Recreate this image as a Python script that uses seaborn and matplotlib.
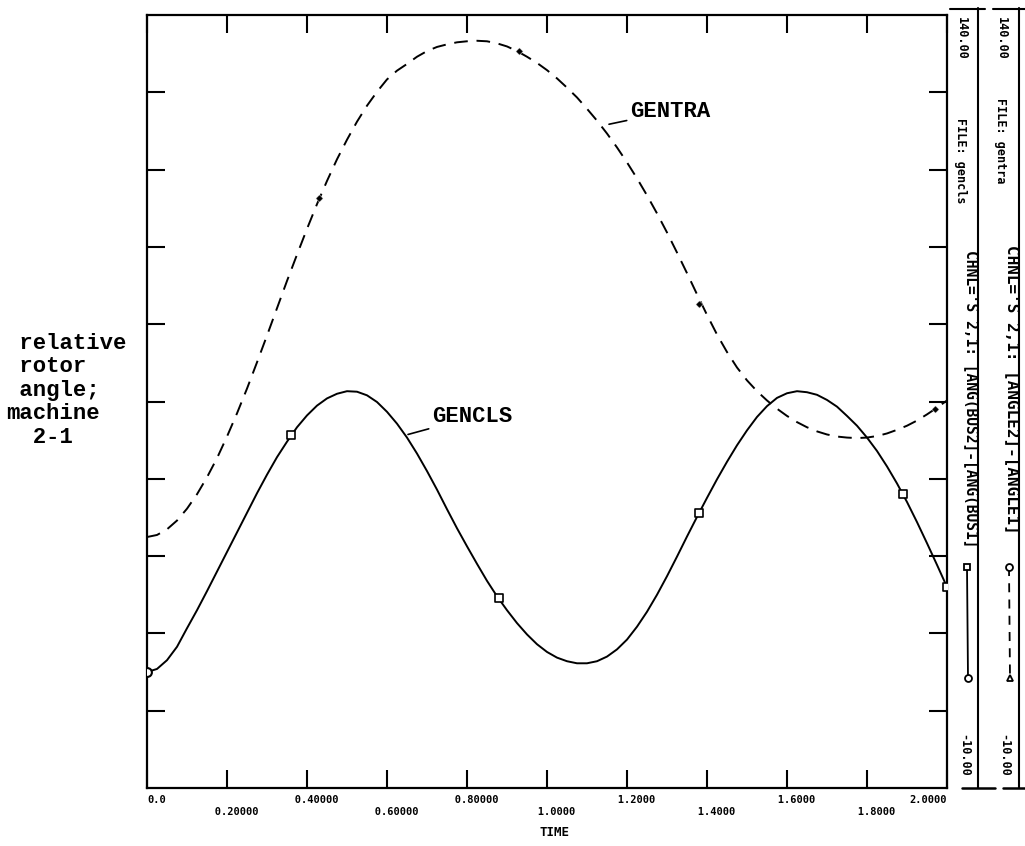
import matplotlib
matplotlib.use("Agg")
import matplotlib.pyplot as plt
import seaborn as sns
import pandas as pd

# values (time step 0.025)
time = [0.000, 0.025, 0.050, 0.075, 0.100, 0.125, 0.150, 0.175, 0.200, 0.225,
        0.250, 0.275, 0.300, 0.325, 0.350, 0.375, 0.400, 0.425, 0.450, 0.475,
        0.500, 0.525, 0.550, 0.575, 0.600, 0.625, 0.650, 0.675, 0.700, 0.725,
        0.750, 0.775, 0.800, 0.825, 0.850, 0.875, 0.900, 0.925, 0.950, 0.975,
        1.000, 1.025, 1.050, 1.075, 1.100, 1.125, 1.150, 1.175, 1.200, 1.225,
        1.250, 1.275, 1.300, 1.325, 1.350, 1.375, 1.400, 1.425, 1.450, 1.475,
        1.500, 1.525, 1.550, 1.575, 1.600, 1.625, 1.650, 1.675, 1.700, 1.725,
        1.750, 1.775, 1.800, 1.825, 1.850, 1.875, 1.900, 1.925, 1.950, 1.975,
        2.000]
gencls = [12.5, 13.1, 14.8, 17.4, 21.0, 24.5, 28.2, 32.0, 35.8, 39.6,
          43.4, 47.2, 50.8, 54.2, 57.2, 60.0, 62.3, 64.2, 65.6, 66.5,
          67.0, 66.9, 66.2, 64.9, 63.0, 60.7, 58.0, 54.9, 51.5, 47.9,
          44.1, 40.4, 36.9, 33.5, 30.2, 27.2, 24.5, 22.0, 19.8, 17.9,
          16.4, 15.3, 14.6, 14.2, 14.2, 14.6, 15.5, 16.9, 18.8, 21.3,
          24.2, 27.5, 31.1, 34.9, 38.8, 42.6, 46.3, 49.9, 53.3, 56.5,
          59.4, 62.0, 64.1, 65.7, 66.6, 67.0, 66.8, 66.3, 65.3, 64.0,
          62.2, 60.3, 58.0, 55.4, 52.4, 49.1, 45.5, 41.6, 37.5, 33.3,
          29.0]
gentra = [38.7, 39.1, 40.2, 41.9, 44.2, 47.0, 50.3, 54.0, 58.2, 62.7,
          67.5, 72.6, 77.8, 83.1, 88.4, 93.5, 98.5, 103.3, 107.8, 112.0,
          115.8, 119.3, 122.4, 125.1, 127.5, 129.2, 130.5, 131.9, 133.0, 133.8,
          134.3, 134.7, 134.9, 135.0, 134.9, 134.5, 133.9, 133.0, 131.9, 130.7,
          129.3, 127.7, 125.9, 124.0, 121.8, 119.5, 117.0, 114.3, 111.4, 108.3,
          105.0, 101.5, 97.8, 93.9, 89.9, 85.8, 81.8, 78.0, 74.6, 71.6,
          69.1, 67.0, 65.2, 63.6, 62.2, 61.0, 60.0, 59.2, 58.6, 58.2,
          58.0, 57.9, 58.0, 58.3, 58.8, 59.5, 60.3, 61.3, 62.5, 63.8,
          65.2]

gencls_mark_t = [0.36, 0.88, 1.38, 1.89, 2.00]
gencls_mark_v = [58.5, 26.8, 43.3, 47.0, 29.0]
gentra_mark_t = [0.43, 0.93, 1.38, 1.97]
gentra_mark_v = [104.5, 133.0, 84.0, 63.5]

x_ticks = [0.0, 0.2, 0.4, 0.6, 0.8, 1.0, 1.2, 1.4, 1.6, 1.8, 2.0]
x_labels = ["0.0", "0.20000", "0.40000", "0.60000", "0.80000", "1.0000",
            "1.2000", "1.4000", "1.6000", "1.8000", "2.0000"]
y_ticks = [5, 20, 35, 50, 65, 80, 95, 110, 125]
y_min, y_max = -10.0, 140.0

df = pd.DataFrame({"time": time, "gencls": gencls, "gentra": gentra})

sns.set_style("white")
plt.rcParams['font.family'] = ['DejaVu Sans Mono', 'DejaVu Sans']
plt.rcParams['text.color'] = 'black'
plt.rcParams['xtick.color'] = 'black'
plt.rcParams['ytick.color'] = 'black'

fig = plt.figure(figsize=(10.25, 8.46), dpi=100)
ax = fig.add_axes([147 / 1025, 1 - 788 / 846, 800 / 1025, 773 / 846])

sns.lineplot(data=df, x="time", y="gencls", ax=ax, color="black", lw=1.4)
sns.lineplot(data=df, x="time", y="gentra", ax=ax, color="black", lw=1.4)
ax.lines[-1].set_dashes([7, 4.5])

sns.scatterplot(x=gencls_mark_t, y=gencls_mark_v, ax=ax, marker="s", s=28,
                facecolor="white", edgecolor="black", linewidth=1.2, zorder=5)
sns.scatterplot(x=[time[0]], y=[gencls[0]], ax=ax, marker="o", s=40,
                facecolor="white", edgecolor="black", linewidth=1.5, zorder=5)
sns.scatterplot(x=gentra_mark_t, y=gentra_mark_v, ax=ax, marker="D", s=14,
                color="black", zorder=5)

ax.set_xlim(0, 2.0)
ax.set_ylim(y_min, y_max)
ax.set_yticks(y_ticks)
ax.set_xticks(x_ticks)
# staggered labels, nudged right like the scanned ones (leading spaces in a mono font)
shown = []
for i, l in enumerate(x_labels):
    if 0 < i < len(x_labels) - 1:
        l = "   " + l
    shown.append(("\n" + l) if i % 2 else l)
ax.set_xticklabels(shown, fontsize=7.5, fontweight="bold", linespacing=1.2)
ticklabs = ax.get_xticklabels()
ticklabs[0].set_ha("left")
ticklabs[-1].set_ha("right")
ax.tick_params(direction="in", length=13, width=1.5, top=True, right=True,
               left=True, bottom=True, labelleft=False, pad=5)
ax.set_xlabel("")
ax.set_ylabel("")
for s in ax.spines.values():
    s.set_linewidth(1.6)
    s.set_color("black")

# curve labels
ax.annotate("GENTRA", xy=(1.155, 118.8), xytext=(1.2075, 121.3),
            family=["Liberation Mono"], fontweight="bold", fontsize=16,
            va="center", ha="left",
            arrowprops=dict(arrowstyle="-", color="black", lw=1.2, shrinkA=0, shrinkB=0))
ax.annotate("GENCLS", xy=(0.6525, 58.6), xytext=(0.7125, 62.0),
            family=["Liberation Mono"], fontweight="bold", fontsize=16,
            va="center", ha="left",
            arrowprops=dict(arrowstyle="-", color="black", lw=1.2, shrinkA=0, shrinkB=0))

fig.text(555 / 1025, 1 - 832 / 846, "TIME", ha="center", va="center",
         fontsize=9, fontweight="bold")

# overlay in pixel units for the y label and the two scale strips
ov = fig.add_axes([0, 0, 1, 1], facecolor="none")
ov.set_xlim(0, 1025)
ov.set_ylim(846, 0)
ov.axis("off")

ov.text(6, 333, " relative\n rotor\n angle;\nmachine\n  2-1", ha="left", va="top",
        family=["Liberation Mono"], fontweight="bold", fontsize=16, linespacing=1.15)

strips = [
    dict(line=978, txt=961, chnl=971, file="FILE: gencls", file_y=118, chnl_y=250,
         chnl_txt="CHNL='S 2,1: [ANG(BUS2]-[ANG(BUS1]", chnl_fs=10.5, leg=967,
         top=(950, 985), bot=(962, 995), dashes=None, m1="s", m2="o"),
    dict(line=1019, txt=1001, chnl=1012, file="FILE: gentra", file_y=98, chnl_y=245,
         chnl_txt="CHNL='S 2,1: [ANGLE2]-[ANGLE1]", chnl_fs=11.5, leg=1009,
         top=(993, 1025), bot=(1003, 1025), dashes=[5, 4], m1="o", m2="^"),
]
for st in strips:
    ov.plot([st["line"], st["line"]], [8, 788], color="black", lw=1.5)
    ov.plot(list(st["top"]), [9, 9], color="black", lw=1.5)
    ov.plot(list(st["bot"]), [788, 788], color="black", lw=1.8)
    ov.text(st["txt"], 17, "140.00", rotation=-90, ha="center", va="top",
            fontsize=8.5, fontweight="bold")
    ov.text(st["txt"], st["file_y"], st["file"], rotation=-90, ha="center", va="top",
            fontsize=8.5, fontweight="bold")
    ov.text(st["chnl"], st["chnl_y"], st["chnl_txt"], rotation=-90, ha="center",
            va="top", fontsize=st["chnl_fs"], fontweight="bold")
    ov.text(st["txt"] + 3, 777, "-10.00", rotation=-90, ha="center", va="bottom",
            fontsize=8.5, fontweight="bold")
    ln, = ov.plot([st["leg"], st["leg"] + 1], [567, 678], color="black", lw=1.3)
    if st["dashes"]:
        ln.set_dashes(st["dashes"])
    ov.plot([st["leg"]], [567], marker=st["m1"], ms=5, mfc="white", mec="black", mew=1.3)
    ov.plot([st["leg"] + 1], [678], marker=st["m2"], ms=5, mfc="white", mec="black", mew=1.3)

fig.savefig("out.png", dpi=100)
